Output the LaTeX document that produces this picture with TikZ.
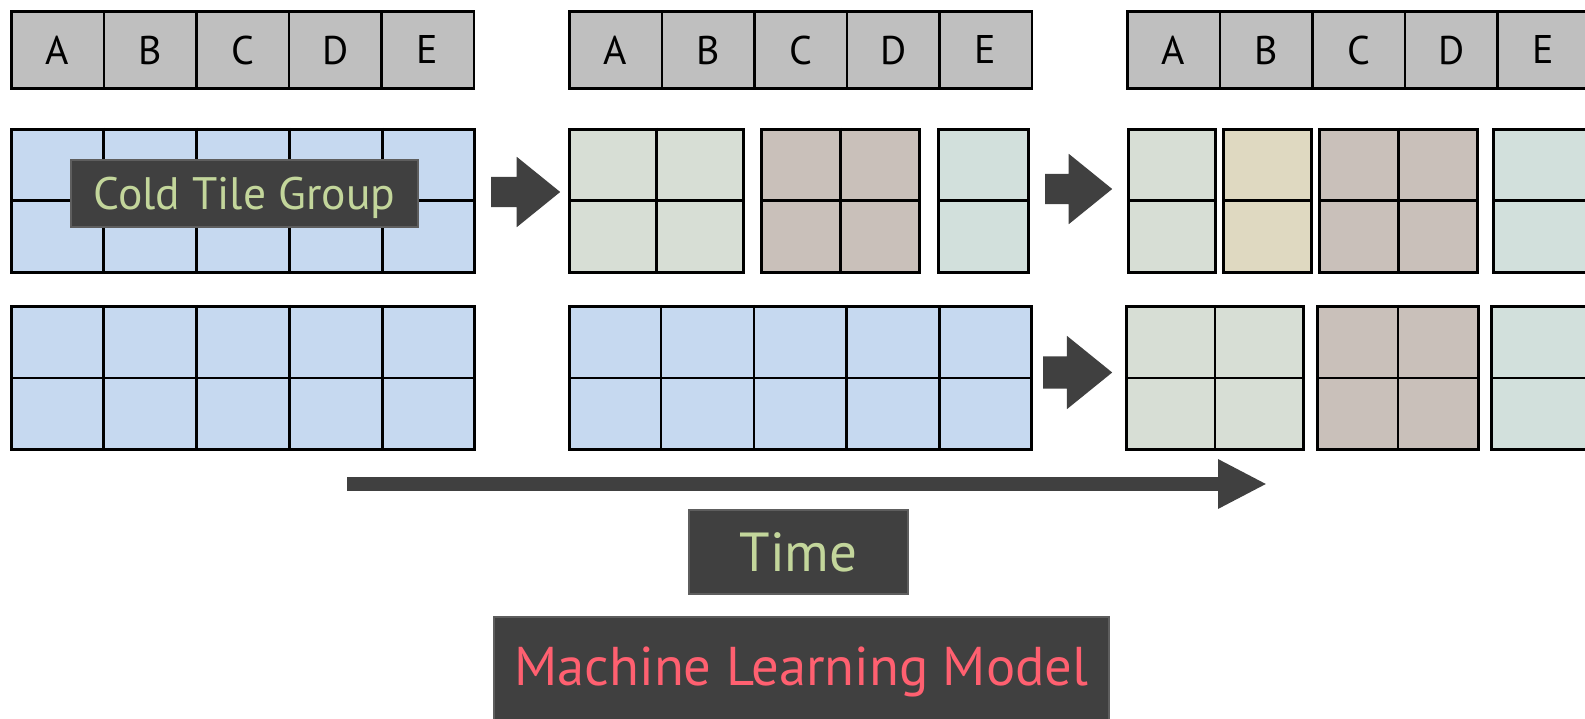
\documentclass[tikz,border=0pt]{standalone}
\usepackage{fontspec}
\setmainfont{PT Sans}
\usetikzlibrary{shapes.arrows,arrows.meta,calc}

\definecolor{headgray}{HTML}{BFBFBF}
\definecolor{coldblue}{HTML}{C6D9F0}
\definecolor{sagegreen}{HTML}{D7DED5}
\definecolor{taupe}{HTML}{C9C0BA}
\definecolor{mint}{HTML}{D2E0DC}
\definecolor{sand}{HTML}{DFD9C1}
\definecolor{darkbox}{HTML}{404040}
\definecolor{darkedge}{HTML}{5E5E5E}
\definecolor{labelgreen}{HTML}{C3D69B}
\definecolor{labelred}{HTML}{FF6070}

\tikzset{
  headcell/.style={draw, line width=2.8, fill=headgray, minimum width=92.5, minimum height=77,
    inner sep=0, text depth=0, anchor=north west, font=\fontsize{40}{40}\selectfont},
  tilebox/.style={draw, line width=2.8, minimum height=143, inner sep=0, anchor=north west},
  gridline/.style={line width=2.8},
  darklabel/.style={draw=darkedge, line width=2, fill=darkbox, inner sep=0, text depth=0},
  blockarrow/.style={single arrow, fill=darkbox, inner xsep=0, inner ysep=15, single arrow head extend=20,
    single arrow tip angle=78, anchor=tail},
}

\begin{document}
\begin{tikzpicture}[x=1pt, y=-1pt]
  \clip (0,0) rectangle (1585,719);

  % Column headers A..E for the three snapshots
  \foreach \g/\gx in {1/10, 2/568, 3/1126}
    \foreach \l [count=\i] in {A,B,C,D,E}
      \node[headcell] (h\g\l) at ({\gx+(\i-1)*92.5}, 10) {\l};

  % Tile groups: name/x/y/width/columns/colour
  \foreach \nm/\x/\y/\w/\cols/\col in {t11/10/128/463/5/coldblue, t12/10/305/463/5/coldblue,
      t21a/568/128/174/2/sagegreen, t21b/760/128/158/2/taupe, t21c/937/128/90/1/mint,
      t22/568/305/462/5/coldblue,
      t31a/1127/128/87/1/sagegreen, t31b/1222/128/88/1/sand, t31c/1318/128/158/2/taupe, t31d/1492/128/110/1/mint,
      t32a/1125/305/177/2/sagegreen, t32b/1316/305/161/2/taupe, t32c/1490/305/110/1/mint} {
    \node[tilebox, fill=\col, minimum width=\w] (\nm) at (\x,\y) {};
    \draw[gridline] (\nm.west) -- (\nm.east);
    \foreach \k in {1,...,4} {
      \ifnum\k<\cols\relax
        \draw[gridline] ($(\nm.north west)!\k/\cols!(\nm.north east)$) -- ($(\nm.south west)!\k/\cols!(\nm.south east)$);
      \fi
    }
  }

  % Label on the cold group
  \node[darklabel, minimum width=347, minimum height=67, text=labelgreen,
    font=\fontsize{45.5}{45.5}\selectfont] (cold) at (244.5,193.5) {Cold Tile Group};

  % Block arrows between snapshots
  \node[blockarrow, minimum height=69] (step1) at (491,192) {};
  \node[blockarrow, minimum height=67] (step2) at (1045,189) {};
  \node[blockarrow, minimum height=69, inner ysep=16, single arrow head extend=20.5] (step3) at (1043,372.5) {};

  % Time axis
  \coordinate (tstart) at (347,484);
  \coordinate (tend) at (1267,484);
  \draw[darkbox, line width=14, -{Triangle[length=49pt, width=46pt]}] (tstart) -- (tend);

  % Bottom labels
  \node[darklabel, minimum width=219, minimum height=84, text=labelgreen,
    font=\fontsize{55}{55}\selectfont] (time) at (798.5,552) {Time};
  \node[darklabel, minimum width=615, minimum height=112, text=labelred, text depth=14,
    font=\fontsize{54.6}{54.6}\selectfont] (model) at (801.5,673) {Machine Learning Model};
\end{tikzpicture}
\end{document}
